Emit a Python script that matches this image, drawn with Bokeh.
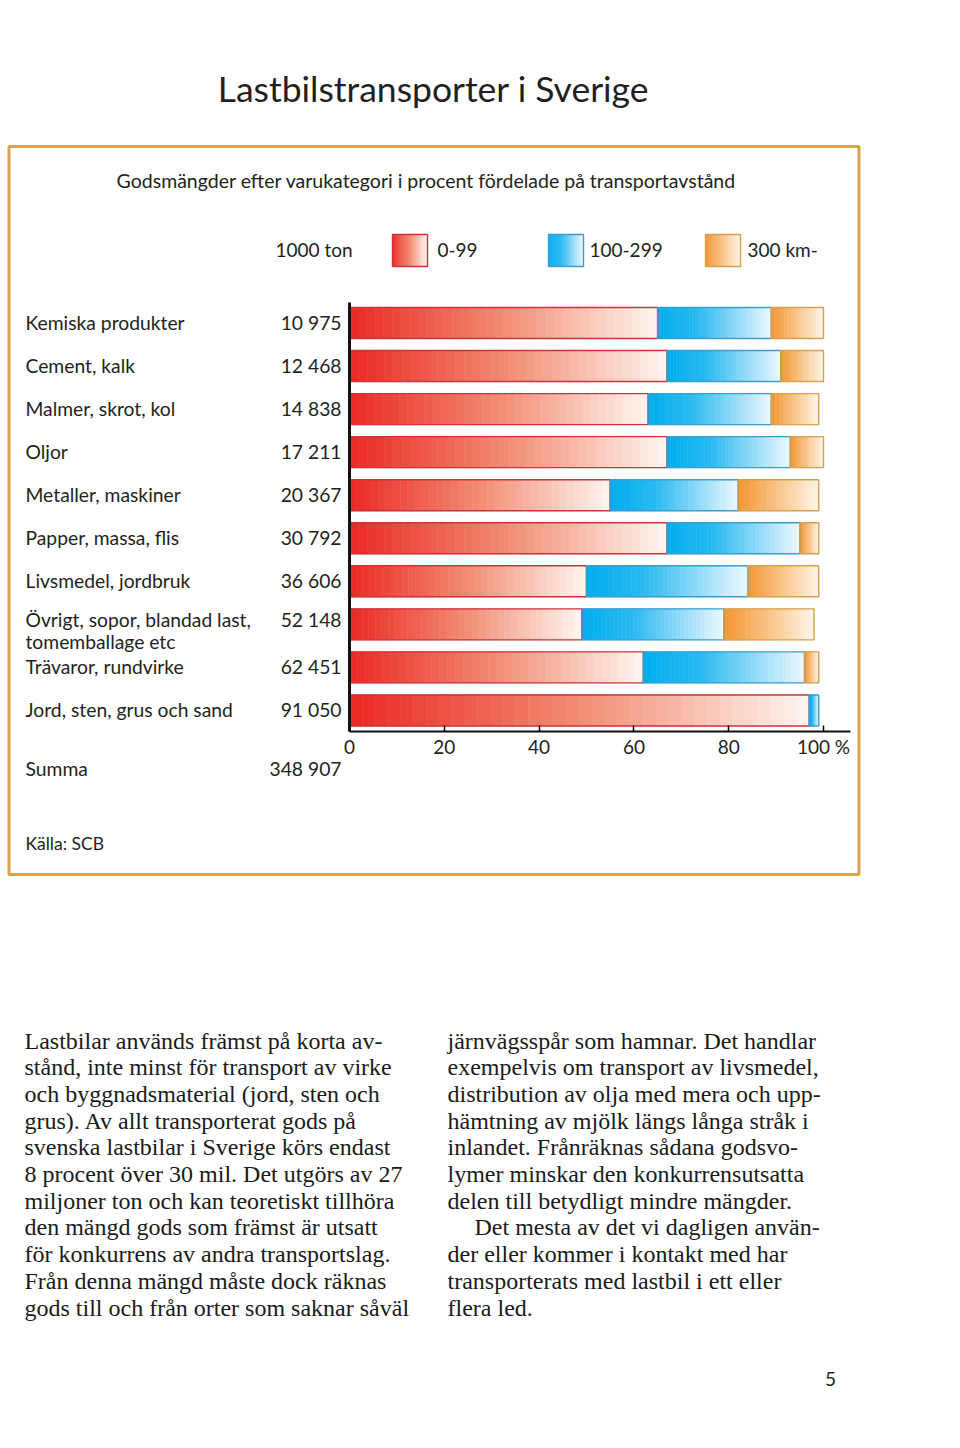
from bokeh.plotting import figure
from bokeh.models import Range1d, LinearAxis, FixedTicker, BoxAnnotation
from bokeh.core.properties import value
from bokeh.embed import file_html
from bokeh.resources import INLINE

# ---------------- data ----------------
categories = [
    "Kemiska produkter",
    "Cement, kalk",
    "Malmer, skrot, kol",
    "Oljor",
    "Metaller, maskiner",
    "Papper, massa, flis",
    "Livsmedel, jordbruk",
    "Övrigt, sopor, blandad last,\ntomemballage etc",
    "Trävaror, rundvirke",
    "Jord, sten, grus och sand",
]
tonnes_1000 = [10975, 12468, 14838, 17211, 20367, 30792, 36606, 52148, 62451, 91050]
tonnes_total = 348907
share_0_99 = [65, 67, 63, 67, 55, 67, 50, 49, 62, 97]
share_100_299 = [24, 24, 26, 26, 27, 28, 34, 30, 34, 2]
share_300_up = [11, 9, 10, 7, 17, 4, 15, 19, 3, 0]
series_labels = ["0-99", "100-299", "300 km-"]
unit_label = "1000 ton"
total_label = "Summa"
x_ticks = [0, 20, 40, 60, 80, 100]

title = "Lastbilstransporter i Sverige"
subtitle = "Godsmängder efter varukategori i procent fördelade på transportavstånd"
source_note = "Källa: SCB"
page_number = "5"

body_left = [
    "Lastbilar används främst på korta av-",
    "stånd, inte minst för transport av virke",
    "och byggnadsmaterial (jord, sten och",
    "grus). Av allt transporterat gods på",
    "svenska lastbilar i Sverige körs endast",
    "8 procent över 30 mil. Det utgörs av 27",
    "miljoner ton och kan teoretiskt tillhöra",
    "den mängd gods som främst är utsatt",
    "för konkurrens av andra transportslag.",
    "Från denna mängd måste dock räknas",
    "gods till och från orter som saknar såväl",
]
body_right = [
    "järnvägsspår som hamnar. Det handlar",
    "exempelvis om transport av livsmedel,",
    "distribution av olja med mera och upp-",
    "hämtning av mjölk längs långa stråk i",
    "inlandet. Frånräknas sådana godsvo-",
    "lymer minskar den konkurrensutsatta",
    "delen till betydligt mindre mängder.",
    "Det mesta av det vi dagligen använ-",
    "der eller kommer i kontakt med har",
    "transporterats med lastbil i ett eller",
    "flera led.",
]
body_right_indent = [False] * 7 + [True] + [False] * 3

# ---------------- layout / style ----------------
W, H = 944, 1432
OFF = 0               # page offset of the canvas
PX_PER_PCT = 4.74
ZERO_X = 349          # page pixel where 0 % sits


def X(px):
    return (px - ZERO_X) / PX_PER_PCT


ROW0_Y, ROW_STEP, BAR_H = 322.5, 43.05, 31
AXIS_Y = 731
SANS = value("Lato")
SERIF = value("Liberation Serif")
TXT = "#231f20"

# colour stops (position, rgb) for each gradient
ramps = [
    [(0.0, (234, 40, 36)), (0.5, (242, 140, 115)), (1.0, (255, 246, 240))],
    [(0.0, (0, 172, 238)), (0.35, (40, 185, 240)), (1.0, (238, 248, 254))],
    [(0.0, (243, 148, 46)), (1.0, (255, 245, 230))],
]
outline_cols = ["#d0323c", "#3a9fcf", "#d9a04e"]
NSLICE = 36


def grad(stops, t):
    for (p0, c0), (p1, c1) in zip(stops[:-1], stops[1:]):
        if t <= p1:
            u = (t - p0) / (p1 - p0)
            return "#%02x%02x%02x" % tuple(int(round(a + (b - a) * u)) for a, b in zip(c0, c1))
    return "#%02x%02x%02x" % stops[-1][1]


p = figure(width=W, height=H, output_backend="svg", toolbar_location=None,
           x_range=Range1d(X(OFF), X(OFF + W)), y_range=Range1d(OFF + H, OFF),
           x_axis_type=None, y_axis_type=None, min_border=0,
           outline_line_color=None, background_fill_color="white",
           border_fill_color="white")

# ---------------- bars (gradient slices) ----------------
sl_l, sl_r, sl_t, sl_b, sl_c = [], [], [], [], []
ol_l, ol_r, ol_t, ol_b, ol_c = [], [], [], [], []
series = [share_0_99, share_100_299, share_300_up]
for i in range(len(categories)):
    yc = ROW0_Y + ROW_STEP * i
    start = 0.0
    for j, s in enumerate(series):
        v = s[i]
        if v <= 0:
            continue
        for k in range(NSLICE):
            a = start + v * k / NSLICE
            b = start + v * (k + 1) / NSLICE
            sl_l.append(a)
            sl_r.append(b)
            sl_t.append(yc - BAR_H / 2)
            sl_b.append(yc + BAR_H / 2)
            sl_c.append(grad(ramps[j], (k + 0.5) / NSLICE))
        ol_l.append(start)
        ol_r.append(start + v)
        ol_t.append(yc - BAR_H / 2)
        ol_b.append(yc + BAR_H / 2)
        ol_c.append(outline_cols[j])
        start += v

p.quad(left=sl_l, right=sl_r, top=sl_t, bottom=sl_b, fill_color=sl_c,
       line_color=sl_c, line_width=0.6)
p.quad(left=ol_l, right=ol_r, top=ol_t, bottom=ol_b, fill_color=None,
       line_color=ol_c, line_width=1.4)

# ---------------- legend swatches ----------------
sw_left = [392, 548, 705]
sw_w, sw_top, sw_bot = 35, 234, 266
lg_l, lg_r, lg_t, lg_b, lg_c = [], [], [], [], []
for j, x0 in enumerate(sw_left):
    for k in range(NSLICE):
        lg_l.append(X(x0 + sw_w * k / NSLICE))
        lg_r.append(X(x0 + sw_w * (k + 1) / NSLICE))
        lg_t.append(sw_top)
        lg_b.append(sw_bot)
        lg_c.append(grad(ramps[j], (k + 0.5) / NSLICE))
p.quad(left=lg_l, right=lg_r, top=lg_t, bottom=lg_b, fill_color=lg_c,
       line_color=lg_c, line_width=0.6)
p.quad(left=[X(x) for x in sw_left], right=[X(x + sw_w) for x in sw_left],
       top=[sw_top] * 3, bottom=[sw_bot] * 3, fill_color=None,
       line_color=outline_cols, line_width=1.4)
p.text(x=[X(275), X(437), X(589), X(747)], y=[249] * 4,
       text=[unit_label] + series_labels, text_font=SANS,
       text_font_size="19px", text_baseline="middle", text_align="left",
       text_color=TXT)

# ---------------- axes ----------------
xaxis = LinearAxis(fixed_location=AXIS_Y, bounds=(0, X(850)),
                   ticker=FixedTicker(ticks=x_ticks),
                   major_label_overrides={100: "100 %"})
xaxis.axis_line_width = 2
xaxis.axis_line_color = "#111111"
xaxis.major_tick_in = 6
xaxis.major_tick_out = 0
xaxis.major_tick_line_width = 1.5
xaxis.minor_tick_line_color = None
xaxis.major_label_standoff = 3
xaxis.major_label_text_font = "Lato"
xaxis.major_label_text_font_size = "19px"
xaxis.major_label_text_color = TXT
p.add_layout(xaxis, "below")

yaxis = LinearAxis(fixed_location=0, bounds=(302, AXIS_Y),
                   ticker=FixedTicker(ticks=[]))
yaxis.axis_line_width = 3
yaxis.axis_line_color = "#111111"
yaxis.major_tick_line_color = None
yaxis.minor_tick_line_color = None
yaxis.major_label_text_font_size = "0px"
p.add_layout(yaxis, "left")

# ---------------- category labels & values ----------------
LAB_FS = "19.3px"
lab_x, lab_y, lab_t = [], [], []
for i, c in enumerate(categories):
    yc = ROW0_Y + ROW_STEP * i
    lines = c.split("\n")
    if len(lines) == 1:
        lab_x.append(X(25)); lab_y.append(yc - 1); lab_t.append(c)
    else:
        lab_x.append(X(25)); lab_y.append(yc - 4.5); lab_t.append(lines[0])
        lab_x.append(X(25)); lab_y.append(yc + 17.5); lab_t.append(lines[1])
lab_x.append(X(25)); lab_y.append(768); lab_t.append(total_label)
p.text(x=lab_x, y=lab_y, text=lab_t, text_font=SANS, text_font_size=LAB_FS,
       text_baseline="middle", text_align="left", text_color=TXT)


def fmt(n):
    return f"{n:,}".replace(",", " ")


val_y = []
for i, c in enumerate(categories):
    yc = ROW0_Y + ROW_STEP * i
    val_y.append(yc - 4.5 if "\n" in c else yc - 1)
p.text(x=[X(341)] * (len(tonnes_1000) + 1), y=val_y + [768],
       text=[fmt(v) for v in tonnes_1000] + [fmt(tonnes_total)],
       text_font=SANS, text_font_size=LAB_FS, text_baseline="middle",
       text_align="right", text_color=TXT)

# ---------------- titles, frame, notes ----------------
p.text(x=[X(433)], y=[88], text=[title], text_font=SANS, text_font_size="35.5px",
       text_baseline="middle", text_align="center", text_color=TXT)
p.text(x=[X(426)], y=[180], text=[subtitle], text_font=SANS,
       text_font_size="19.5px", text_baseline="middle", text_align="center",
       text_color=TXT)
p.text(x=[X(25)], y=[843], text=[source_note], text_font=SANS,
       text_font_size="17.5px", text_baseline="middle", text_align="left",
       text_color=TXT)
p.add_layout(BoxAnnotation(left=X(8.5), right=X(858.5), top=146, bottom=874,
                           fill_alpha=0, fill_color=None,
                           line_color="#dba24e", line_alpha=1.0, line_width=3))

# ---------------- body text ----------------
LINE_H = 26.7
p.text(x=[X(24)] * len(body_left), y=[1040 + LINE_H * k for k in range(len(body_left))],
       text=body_left, text_font=SERIF, text_font_size="24px",
       text_baseline="middle", text_align="left", text_color="#1a1a1a")
p.text(x=[X(474) if ind else X(447) for ind in body_right_indent],
       y=[1040 + LINE_H * k for k in range(len(body_right))],
       text=body_right, text_font=SERIF, text_font_size="24px",
       text_baseline="middle", text_align="left", text_color="#1a1a1a")
p.text(x=[X(830)], y=[1378], text=[page_number], text_font=SANS,
       text_font_size="19px", text_baseline="middle", text_align="center",
       text_color=TXT)

open("out.html", "w").write(file_html(p, INLINE))
